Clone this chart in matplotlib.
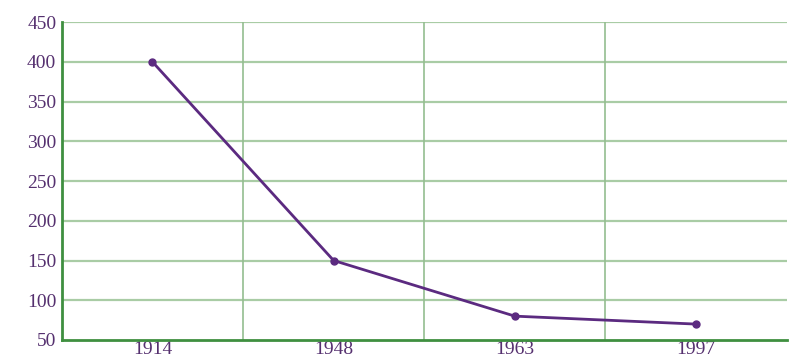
import matplotlib
matplotlib.use('Agg')
import matplotlib.pyplot as plt

# data
years = ['1914', '1948', '1963', '1997']
values = [400, 150, 80, 70]

LINE = '#5b2a80'
TEXT = '#55306f'
GRID = '#a9cca5'
SPINE = '#3f8f40'

fig = plt.figure(figsize=(7.93, 3.63), dpi=100)
fig.patch.set_facecolor('white')
ax = fig.add_axes([0.078, 0.0634, 0.914, 0.8756])

x = list(range(len(years)))
ax.plot(x, values, color=LINE, linewidth=2, marker='o', markersize=5, zorder=3)

ax.set_xlim(-0.5, len(years) - 0.5)
ax.set_ylim(50, 450)
ax.set_yticks(range(50, 451, 50))
ax.set_xticks(x)
ax.set_xticklabels(years)

# grid: horizontal at ticks, vertical between categories
for yv in range(100, 451, 50):
    ax.axhline(yv, color=GRID, linewidth=1.6, zorder=1)
for xv in [0.5, 1.5, 2.5]:
    ax.axvline(xv, color='#94bd90', linewidth=1.2, zorder=1)

for s in ['top', 'right']:
    ax.spines[s].set_visible(False)
for s in ['left', 'bottom']:
    ax.spines[s].set_color(SPINE)
    ax.spines[s].set_linewidth(2)

ax.tick_params(length=0, pad=4, labelcolor=TEXT, labelsize=14)
for lab in ax.get_xticklabels() + ax.get_yticklabels():
    lab.set_family('Liberation Serif')
ax.tick_params(axis='x', pad=1)

plt.savefig('out.png', dpi=100, facecolor='white')
plt.close()
